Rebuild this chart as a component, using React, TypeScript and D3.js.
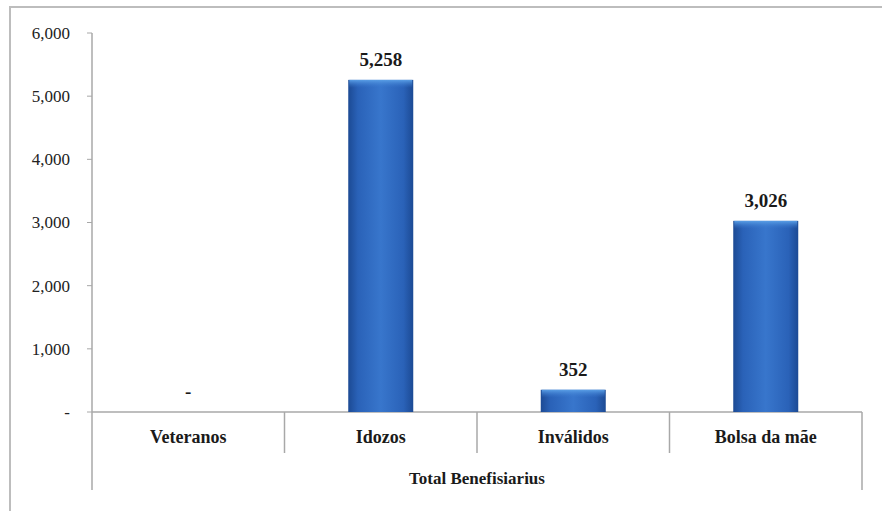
import React from "react";
import * as d3 from "d3";

const categories = ["Veteranos", "Idozos", "Inválidos", "Bolsa da mãe"];
const values = [0, 5258, 352, 3026];
const valueLabels = ["-", "5,258", "352", "3,026"];
const yTicks = [0, 1000, 2000, 3000, 4000, 5000, 6000];
const groupLabel = "Total Benefisiarius";

export default function App() {
  const W = 882, H = 511;
  const x0 = 92, x1 = 862, yTop = 33, yBase = 412;
  const y = d3.scaleLinear().domain([0, 6000]).range([yBase, yTop]);
  const x = d3.scaleBand().domain(categories).range([x0, x1]).paddingInner(0).paddingOuter(0);
  const bw = 65;
  const fmt = (v: number) => (v === 0 ? "-" : d3.format(",")(v));
  const ff = { fontFamily: '"Liberation Serif", "Times New Roman", Tinos, "DejaVu Serif", serif' };
  return (
    <svg width={W} height={H} style={{ position: "absolute", left: 0, top: 0 }}>
      <defs>
        <linearGradient id="barg" x1="0" x2="1" y1="0" y2="0">
          <stop offset="0" stopColor="#1c4a94" />
          <stop offset="0.15" stopColor="#2a62b8" />
          <stop offset="0.5" stopColor="#3876cc" />
          <stop offset="0.85" stopColor="#2a62b8" />
          <stop offset="1" stopColor="#1c4a94" />
        </linearGradient>
        <linearGradient id="capg" x1="0" x2="0" y1="0" y2="1">
          <stop offset="0" stopColor="#5a9fe6" />
          <stop offset="1" stopColor="#3876cc" stopOpacity="0" />
        </linearGradient>
      </defs>
      <rect x={0} y={0} width={W} height={H} fill="#fff" />
      <rect x={10} y={7} width={W + 20} height={H + 20} fill="none" stroke="#bdbdbd" strokeWidth={2} />
      <line x1={x0} x2={x0} y1={yTop} y2={490} stroke="#a8a8a8" strokeWidth={1.5} />
      {yTicks.map((t) => (
        <g key={t}>
          <line x1={x0 - 5} x2={x0} y1={y(t)} y2={y(t)} stroke="#a8a8a8" />
          <text x={70} y={y(t)} dy="0.35em" textAnchor="end" style={ff} fontSize={17} fill="#222">
            {fmt(t)}
          </text>
        </g>
      ))}
      <line x1={x0} x2={x1} y1={yBase} y2={yBase} stroke="#a8a8a8" strokeWidth={1.5} />
      <line x1={x1} x2={x1} y1={yBase} y2={490} stroke="#a8a8a8" strokeWidth={1.5} />
      {categories.slice(1).map((c) => (
        <line key={c} x1={x(c) as number} x2={x(c) as number} y1={yBase} y2={453} stroke="#a8a8a8" strokeWidth={1.5} />
      ))}
      {categories.map((c, i) => {
        const cx = (x(c) as number) + x.bandwidth() / 2;
        const v = values[i];
        return (
          <g key={c}>
            {v > 0 && (
              <g>
                <rect x={cx - bw / 2} y={y(v)} width={bw} height={yBase - y(v)} fill="url(#barg)" />
                <rect x={cx - bw / 2 + 1} y={y(v)} width={bw - 2} height={Math.min(8, yBase - y(v))} fill="url(#capg)" />
              </g>
            )}
            <text x={cx} y={y(v) - 14} textAnchor="middle" style={ff} fontWeight="bold" fontSize={19} fill="#1a1a1a">
              {valueLabels[i]}
            </text>
            <text x={cx} y={437} dy="0.35em" textAnchor="middle" style={ff} fontWeight="bold" fontSize={18} fill="#1a1a1a">
              {c}
            </text>
          </g>
        );
      })}
      <text x={(x0 + x1) / 2} y={478} dy="0.35em" textAnchor="middle" style={ff} fontWeight="bold" fontSize={17} fill="#1a1a1a">
        {groupLabel}
      </text>
    </svg>
  );
}
